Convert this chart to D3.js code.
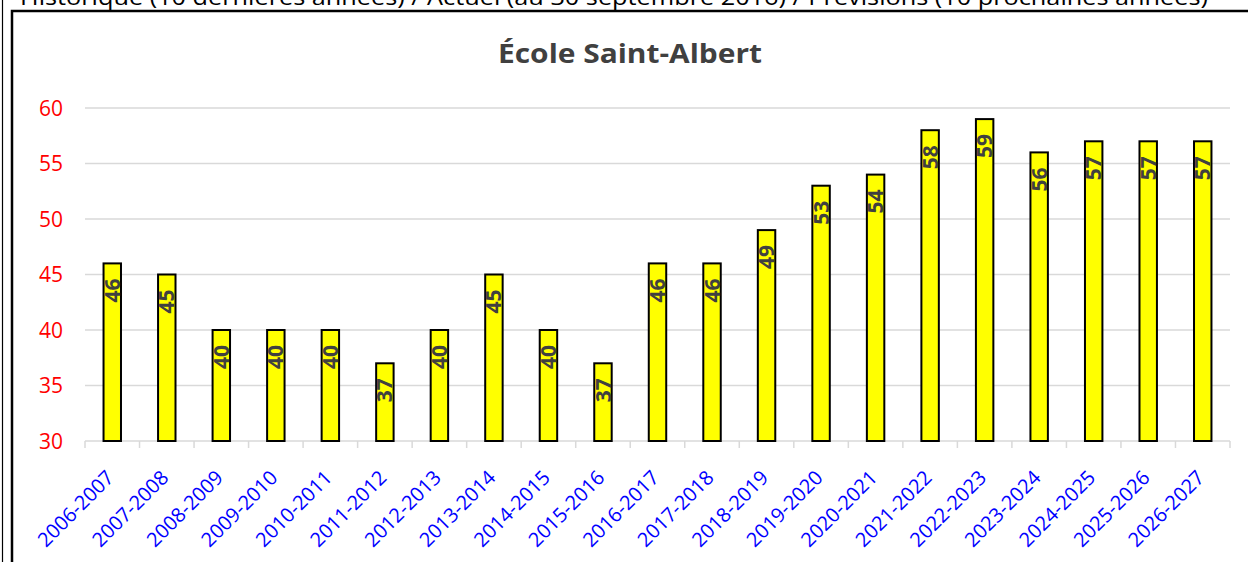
<!DOCTYPE html>
<html>
<head>
<meta charset="utf-8">
<script src="https://cdn.jsdelivr.net/npm/d3@7"></script>
<style>
  body { margin: 0; background: #fff; overflow: hidden; }
  svg { display: block; font-family: "Open Sans", sans-serif; }
</style>
</head>
<body>
<div id="chart"></div>
<script>
var years = ["2006-2007", "2007-2008", "2008-2009", "2009-2010", "2010-2011", "2011-2012",
    "2012-2013", "2013-2014", "2014-2015", "2015-2016", "2016-2017", "2017-2018", "2018-2019",
    "2019-2020", "2020-2021", "2021-2022", "2022-2023", "2023-2024", "2024-2025", "2025-2026",
    "2026-2027"];
var effectifs = [46, 45, 40, 40, 40, 37, 40, 45, 40, 37, 46, 46, 49, 53, 54, 58, 59, 56, 57, 57, 57];
var yTicks = [30, 35, 40, 45, 50, 55, 60];
var titre = "École Saint-Albert";
var entete = "Historique (10 dernières années) / Actuel (au 30 septembre 2016) / Prévisions (10 prochaines années)";

var width = 1248,
    height = 562;
var plotLeft = 85, plotRight = 1230, plotTop = 108, plotBottom = 441;

var svg = d3.select("#chart").append("svg")
    .attr("width", width)
    .attr("height", height);

// texte coupé en haut de la page
svg.append("text")
    .attr("x", 20)
    .attr("y", 5)
    .attr("font-size", "22px")
    .attr("fill", "#000")
    .attr("textLength", 1188)
    .attr("lengthAdjust", "spacingAndGlyphs")
    .text(entete);

// ligne verticale à gauche
svg.append("line")
    .attr("x1", 2.5).attr("x2", 2.5)
    .attr("y1", 0).attr("y2", height)
    .attr("stroke", "#000").attr("stroke-width", 1.2);

// cadre du graphique
svg.append("rect")
    .attr("x", 12).attr("y", 11)
    .attr("width", 1400).attr("height", 700)
    .attr("fill", "#fff")
    .attr("stroke", "#000").attr("stroke-width", 2.5);

svg.append("text")
    .attr("x", 630)
    .attr("y", 63)
    .attr("text-anchor", "middle")
    .attr("font-size", "27px")
    .attr("font-weight", "bold")
    .attr("fill", "#404040")
    .attr("textLength", 264)
    .attr("lengthAdjust", "spacingAndGlyphs")
    .text(titre);

var x = d3.scaleBand()
    .domain(years)
    .range([plotLeft, plotRight])
    .paddingInner(0.68)
    .paddingOuter(0.34);

var y = d3.scaleLinear()
    .domain([30, 60])
    .range([plotBottom, plotTop]);

// grille
svg.append("g")
    .selectAll("line")
    .data(yTicks.filter(d => d > 30))
    .enter().append("line")
    .attr("x1", plotLeft).attr("x2", plotRight)
    .attr("y1", d => y(d)).attr("y2", d => y(d))
    .attr("stroke", "#d9d9d9").attr("stroke-width", 1.5);

// axe y
var yAxis = svg.append("g")
    .attr("transform", "translate(" + (plotLeft - 22) + ",0)")
    .call(d3.axisLeft(y).tickValues(yTicks).tickSize(0).tickPadding(0));
yAxis.select(".domain").remove();
yAxis.selectAll("text")
    .attr("fill", "#ff0000")
    .attr("font-size", "21px")
    .attr("font-family", "Open Sans, sans-serif")
    .attr("dy", "0.35em");

// axe x
var bandStep = x.step();
var xAxis = svg.append("g")
    .attr("transform", "translate(0," + plotBottom + ")");
xAxis.append("line")
    .attr("x1", plotLeft).attr("x2", plotRight)
    .attr("stroke", "#d9d9d9").attr("stroke-width", 1.5);
xAxis.selectAll(".tk")
    .data(d3.range(years.length + 1))
    .enter().append("line")
    .attr("class", "tk")
    .attr("x1", i => plotLeft + i * bandStep).attr("x2", i => plotLeft + i * bandStep)
    .attr("y1", 0).attr("y2", 7)
    .attr("stroke", "#d9d9d9").attr("stroke-width", 1.5);
xAxis.selectAll(".lbl")
    .data(years)
    .enter().append("text")
    .attr("class", "lbl")
    .attr("text-anchor", "end")
    .attr("font-size", "20px")
    .attr("fill", "#0000ff")
    .attr("transform", d => "translate(" + (x(d) + x.bandwidth() / 2 - 2) + ",33) rotate(-45)")
    .attr("dy", "0.35em")
    .text(d => d);

// barres
svg.append("g")
    .selectAll("rect")
    .data(effectifs)
    .enter().append("rect")
    .attr("x", (d, i) => x(years[i]))
    .attr("y", d => y(d))
    .attr("width", x.bandwidth())
    .attr("height", d => plotBottom - y(d))
    .attr("fill", "#ffff00")
    .attr("stroke", "#000")
    .attr("stroke-width", 2);

// étiquettes de données
svg.append("g")
    .selectAll("text")
    .data(effectifs)
    .enter().append("text")
    .attr("transform", (d, i) => "translate(" + (x(years[i]) + x.bandwidth() / 2) + "," + (y(d) + 15) + ") rotate(-90)")
    .attr("text-anchor", "end")
    .attr("dy", "0.36em")
    .attr("font-size", "21px")
    .attr("font-weight", "bold")
    .attr("fill", "#404040")
    .text(d => d);
</script>
</body>
</html>
